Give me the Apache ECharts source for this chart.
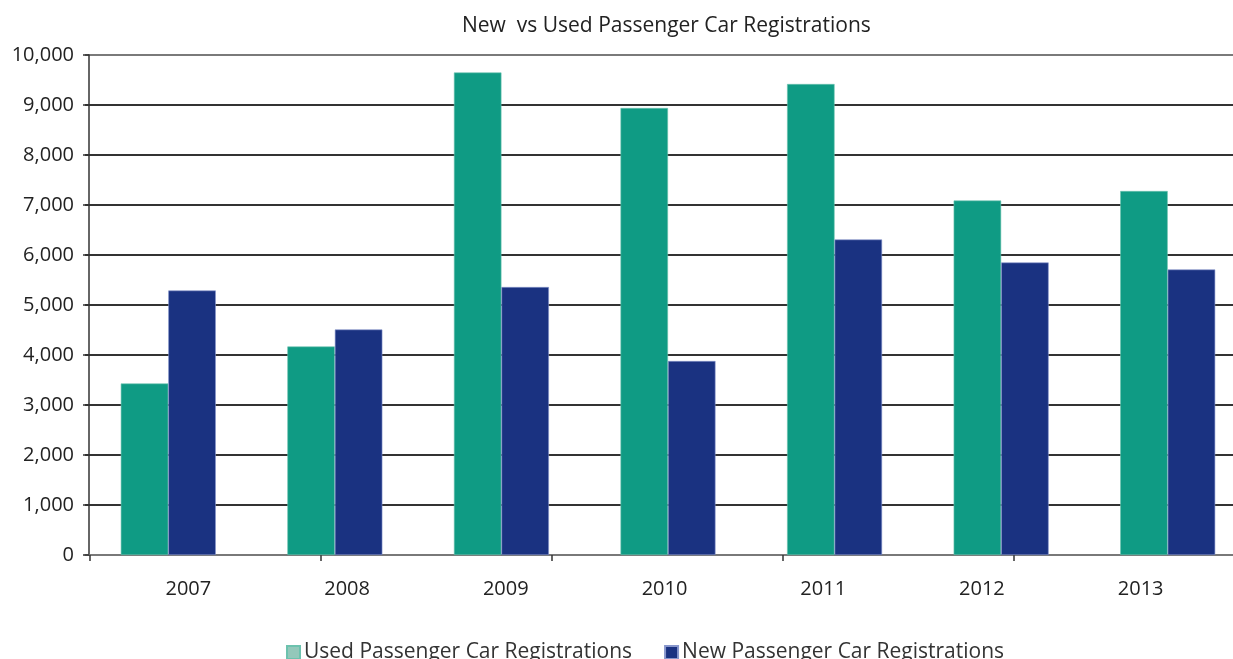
<!DOCTYPE html>
<html>
<head>
<meta charset="utf-8">
<script src="https://cdn.jsdelivr.net/npm/echarts@6/dist/echarts.min.js"></script>
<style>
  html, body { margin: 0; padding: 0; background: #fff; overflow: hidden; }
  #chart { width: 1260px; height: 659px; }
</style>
</head>
<body>
<div id="chart"></div>
<script>
// Registrations per year
const years = ['2007', '2008', '2009', '2010', '2011', '2012', '2013'];
const usedRegs = [3430, 4170, 9650, 8940, 9420, 7090, 7280];
const newRegs = [5290, 4510, 5360, 3880, 6310, 5850, 5710];
const yTicks = { min: 0, max: 10000, interval: 1000 };

const FONT = '"Open Sans", Lato, sans-serif';
const chart = echarts.init(document.getElementById('chart'), null, { renderer: 'canvas' });

// grid line colours: outer lines lighter, inner lines dark
const splitColors = [];
for (let v = yTicks.min; v <= yTicks.max; v += yTicks.interval) {
  splitColors.push(v === yTicks.min || v === yTicks.max ? '#7a7a7a' : '#333333');
}

chart.setOption({
  animation: false,
  backgroundColor: '#ffffff',
  title: {
    text: 'New  vs Used Passenger Car Registrations',
    left: 457, top: 11,
    textStyle: { fontFamily: FONT, fontSize: 21, fontWeight: 'normal', color: '#222' }
  },
  legend: {
    left: 281, top: 637,
    itemWidth: 13, itemHeight: 13, itemGap: 32,
    icon: 'rect',
    textStyle: { fontFamily: FONT, fontSize: 21, color: '#333', padding: [0, 0, 0, -1] },
    data: [
      { name: 'Used Passenger Car Registrations', itemStyle: { color: '#93c8ba' } },
      { name: 'New Passenger Car Registrations', itemStyle: { color: '#1a3281' } }
    ]
  },
  grid: [
    { left: 85, right: 9, top: 55, bottom: 104 },    // bars
    { left: 109, right: 40, top: 55, bottom: 104 },  // year labels
    { left: 90, right: 15, top: 55, bottom: 104 }    // bottom tick marks
  ],
  xAxis: [
    {
      type: 'category', gridIndex: 0, data: years,
      axisLine: { show: true, lineStyle: { color: '#7a7a7a', width: 1.5 } },
      axisTick: { show: false },
      axisLabel: { show: false }
    },
    {
      type: 'category', gridIndex: 1, data: years,
      axisLine: { show: false }, axisTick: { show: false },
      axisLabel: { fontFamily: FONT, fontSize: 20, color: '#222', margin: 24 }
    },
    {
      type: 'value', gridIndex: 2, min: 0, max: 5, interval: 1,
      axisLine: { show: false },
      axisTick: { show: true, length: 6, lineStyle: { color: '#333', width: 1.5 } },
      axisLabel: { show: false },
      splitLine: { show: false }
    }
  ],
  yAxis: [
    {
      type: 'value', gridIndex: 0,
      min: yTicks.min, max: yTicks.max, interval: yTicks.interval,
      offset: -4,
      axisLine: { show: true, lineStyle: { color: '#333', width: 1.5 } },
      axisTick: { show: true, length: 6, lineStyle: { color: '#333', width: 1.5 } },
      axisLabel: {
        fontFamily: FONT, fontSize: 20, color: '#222', margin: 15,
        formatter: v => v.toLocaleString('en-US')
      },
      splitLine: { show: true, lineStyle: { color: splitColors, width: 2 } }
    },
    { type: 'value', gridIndex: 1, show: false, min: 0, max: 1 },
    { type: 'value', gridIndex: 2, show: false, min: 0, max: 1 }
  ],
  series: [
    {
      name: 'Used Passenger Car Registrations', type: 'bar',
      xAxisIndex: 0, yAxisIndex: 0,
      data: usedRegs, barWidth: 47.5, barGap: '0%',
      itemStyle: { color: '#0f9b84', borderColor: '#6cc2ae', borderWidth: 0.6 }
    },
    {
      name: 'New Passenger Car Registrations', type: 'bar',
      xAxisIndex: 0, yAxisIndex: 0,
      data: newRegs, barWidth: 47.5, barGap: '0%',
      itemStyle: { color: '#1a3281', borderColor: '#8796cc', borderWidth: 0.6 }
    }
  ]
});
</script>
</body>
</html>
